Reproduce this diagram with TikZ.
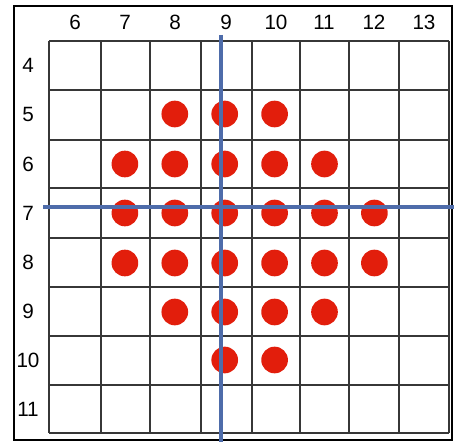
\documentclass[tikz,border=0pt]{standalone}
\usepackage{fontspec}
\setmainfont{Liberation Sans}
\definecolor{dotred}{RGB}{226,30,12}
\definecolor{axblue}{RGB}{78,108,170}
\definecolor{gridgray}{RGB}{55,55,55}
\tikzset{
  lbl/.style={inner sep=0pt, font=\fontsize{15.5}{16}\selectfont},
  dot/.style={circle, fill=dotred, draw=none, minimum size=20pt, inner sep=0pt},
  gridline/.style={draw=gridgray, line width=1.8pt},
  axis/.style={draw=axblue, line width=2.4pt},
}
\begin{document}
\begin{tikzpicture}[x=0.75pt,y=-0.75pt]
\useasboundingbox (0,0) rectangle (454,442);
\fill[white] (0,0) rectangle (454,442);
% outer frame
\draw[line width=1.8pt] (14,6) rectangle (452,440);
% grid
\foreach \x in {49,101,150,201,252,300,349,399,449}
  \draw[gridline] (\x,41) -- (\x,433);
\foreach \y in {41,90,140,188,238,287,336,385,433}
  \draw[gridline] (49,\y) -- (449,\y);
% column labels
\foreach \c/\x in {6/75,7/125,8/175,9/226,10/276,11/324,12/374,13/424}
  \node[lbl] (c\c) at (\x,22) {\c};
% row labels
\foreach \r/\y in {4/65,5/114,6/164,7/213,8/262,9/311,10/360,11/409}
  \node[lbl] (r\r) at (28,\y) {\r};
% dots
\foreach \r/\y/\cols in {5/114/{8,9,10},6/164/{7,8,9,10,11},7/213/{7,8,9,10,11,12},8/263/{7,8,9,10,11,12},9/312/{8,9,10,11},10/360/{9,10}}{
  \foreach \c in \cols {
    \pgfmathsetmacro{\xx}{75+(\c-6)*49.9}
    \node[dot] (d\r-\c) at (\xx,\y) {};
  }
}
% blue axes
\coordinate (vt) at (221,35);
\coordinate (vb) at (221,442);
\coordinate (hl) at (43,207);
\coordinate (hr) at (454,207);
\draw[axis] (vt) -- (vb);
\draw[axis] (hl) -- (hr);
\end{tikzpicture}
\end{document}
